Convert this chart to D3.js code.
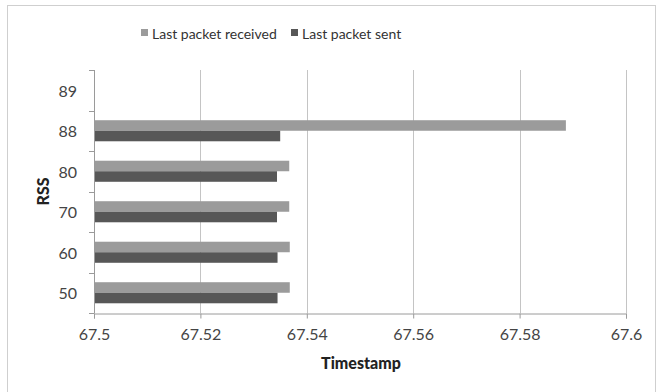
<!DOCTYPE html>
<html>
<head>
<meta charset="utf-8">
<script src="https://cdn.jsdelivr.net/npm/d3@7"></script>
<style>
  body { margin: 0; background: #fff; }
  svg { display: block; }
  text { font-family: Lato, "Open Sans", sans-serif; fill: #404040; }
</style>
</head>
<body>
<svg id="chart" width="657" height="392"></svg>
<script>
const categories = ["89", "88", "80", "70", "60", "50"];
const seriesNames = ["Last packet received", "Last packet sent"];
const received = [null, 67.5887, 67.5367, 67.5367, 67.5368, 67.5368];
const sent = [null, 67.5350, 67.5344, 67.5344, 67.5345, 67.5345];
const xTicks = [67.5, 67.52, 67.54, 67.56, 67.58, 67.6];
const xTickLabels = ["67.5", "67.52", "67.54", "67.56", "67.58", "67.6"];
const colors = ["#9b9b9b", "#575757"];

const svg = d3.select("#chart");
const m = { left: 94, right: 31, top: 70, bottom: 79 };
const W = 657, H = 392;
const iw = W - m.left - m.right, ih = H - m.top - m.bottom;

// Chart border
svg.append("rect").attr("x", 7.5).attr("y", 5.5).attr("width", 648).attr("height", 400)
  .attr("fill", "none").attr("stroke", "#cfcfcf").attr("stroke-width", 1);

const g = svg.append("g").attr("transform", `translate(${m.left},${m.top})`);

const x = d3.scaleLinear().domain([67.5, 67.6]).range([0, iw]);
const y = d3.scaleBand().domain(categories).range([0, ih]).paddingInner(0.48).paddingOuter(0.24);
const ySub = d3.scaleBand().domain(seriesNames).range([0, y.bandwidth()]);

// gridlines
g.append("g").selectAll("line").data(xTicks.slice(1)).join("line")
  .attr("x1", d => Math.round(x(d)) + 0.5).attr("x2", d => Math.round(x(d)) + 0.5)
  .attr("y1", 0).attr("y2", ih).attr("stroke", "#c4c4c4").attr("stroke-width", 1);

// bars
const data = [];
categories.forEach((c, i) => {
  if (received[i] != null) data.push({ cat: c, s: seriesNames[0], v: received[i], col: colors[0] });
  if (sent[i] != null) data.push({ cat: c, s: seriesNames[1], v: sent[i], col: colors[1] });
});
g.append("g").selectAll("rect").data(data).join("rect")
  .attr("x", x(67.5))
  .attr("y", d => y(d.cat) + ySub(d.s))
  .attr("width", d => x(d.v) - x(67.5))
  .attr("height", ySub.bandwidth())
  .attr("fill", d => d.col);

// x axis
const xAxis = d3.axisBottom(x).tickValues(xTicks).tickFormat((d, i) => xTickLabels[i]).tickSize(5).tickPadding(10);
const xg = g.append("g").attr("transform", `translate(0,${ih + 0.5})`).call(xAxis);
xg.select(".domain").attr("stroke", "#9a9a9a");
xg.selectAll(".tick line").attr("stroke", "#9a9a9a");
xg.selectAll("text").attr("font-size", 16).style("fill", "#444");

// y axis: line and ticks at band boundaries
g.append("line").attr("x1", 0.5).attr("x2", 0.5).attr("y1", 0).attr("y2", ih).attr("stroke", "#9a9a9a");
const step = y.step();
const bounds = d3.range(categories.length + 1).map(i => i * step);
g.append("g").selectAll("line").data(bounds).join("line")
  .attr("x1", -5).attr("x2", 0.5).attr("y1", d => Math.round(d) + 0.5).attr("y2", d => Math.round(d) + 0.5)
  .attr("stroke", "#9a9a9a");
g.append("g").selectAll("text").data(categories).join("text")
  .attr("x", -17).attr("y", d => y(d) + y.bandwidth() / 2)
  .attr("text-anchor", "end").attr("dominant-baseline", "central")
  .attr("font-size", 16).style("fill", "#444")
  .text(d => d);

// axis titles
svg.append("text").attr("x", m.left + iw / 2 + 1).attr("y", 369)
  .attr("text-anchor", "middle").attr("font-size", 16).attr("font-weight", 900).style("fill", "#222")
  .text("Timestamp");
svg.append("text").attr("transform", `translate(49,${m.top + ih / 2}) rotate(-90)`)
  .attr("text-anchor", "middle").attr("font-size", 16).attr("font-weight", 900).style("fill", "#222")
  .text("RSS");

// legend
const legend = svg.append("g");
const legendItems = [
  { name: seriesNames[0], col: colors[0], x: 141 },
  { name: seriesNames[1], col: colors[1], x: 291 }
];
legendItems.forEach(it => {
  legend.append("rect").attr("x", it.x).attr("y", 29).attr("width", 7).attr("height", 7).attr("fill", it.col);
  legend.append("text").attr("x", it.x + 11).attr("y", 33).attr("dominant-baseline", "central")
    .attr("font-size", 14).style("fill", "#333").text(it.name);
});
</script>
</body>
</html>
